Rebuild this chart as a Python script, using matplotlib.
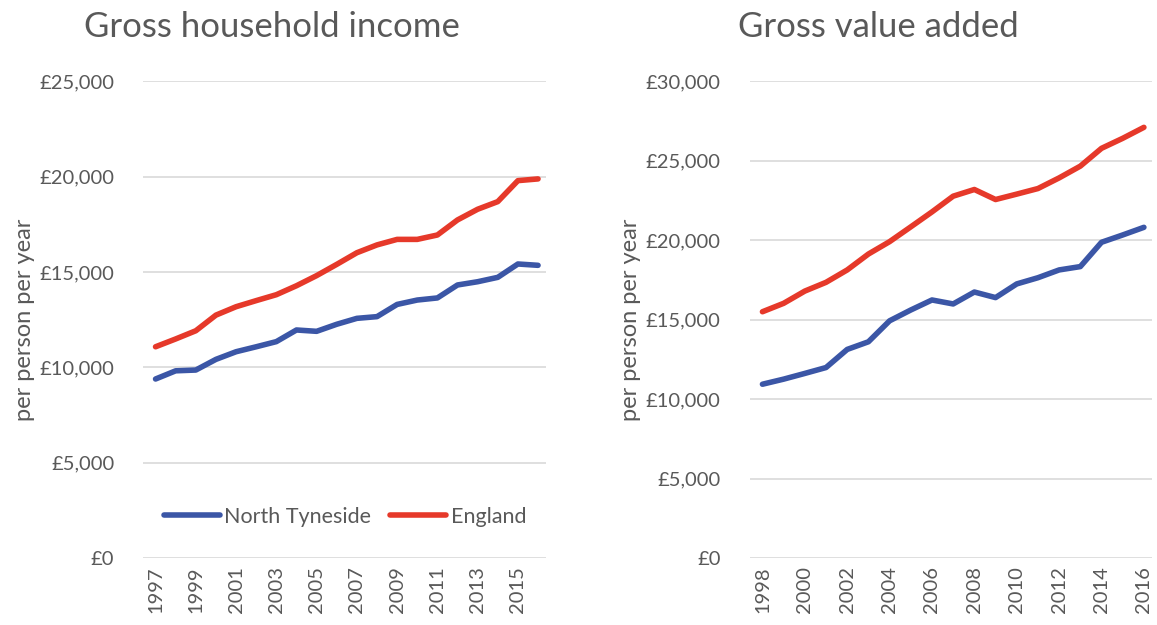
import matplotlib as mpl
import matplotlib.pyplot as plt
import numpy as np

# Gross household income, per person per year
GHI_YEARS = list(range(1997, 2017))
GHI_NORTH_TYNESIDE = [9390, 9820, 9860, 10420, 10820, 11080, 11350, 11960, 11890, 12260,
                      12570, 12660, 13300, 13530, 13640, 14320, 14490, 14720, 15420, 15350]
GHI_ENGLAND = [11080, 11490, 11920, 12740, 13180, 13500, 13810, 14280, 14810, 15400,
               16010, 16420, 16710, 16710, 16940, 17730, 18290, 18690, 19790, 19880]

# Gross value added, per person per year
GVA_YEARS = list(range(1998, 2017))
GVA_NORTH_TYNESIDE = [10940, 11260, 11620, 11990, 13130, 13610, 14930, 15610, 16240, 15990,
                      16740, 16390, 17250, 17640, 18130, 18340, 19870, 20330, 20810]
GVA_ENGLAND = [15500, 16030, 16800, 17350, 18130, 19130, 19910, 20840, 21780, 22770,
               23190, 22560, 22900, 23250, 23920, 24660, 25780, 26410, 27100]

BLUE = "#3b56a6"
RED = "#e6392a"
TEXT = "#595959"
GRID = "#d9d9d9"

plt.rcParams["font.family"] = ["Lato", "DejaVu Sans"]


def style_axes(ax, years, ymax, title, title_x, tick_years):
    ax.set_xlim(years[0] - 0.6, years[-1] + 0.4)
    ax.set_ylim(0, ymax)
    ax.yaxis.set_major_locator(mpl.ticker.MultipleLocator(5000))
    ax.yaxis.set_major_formatter(mpl.ticker.FuncFormatter(lambda v, p: f"£{v:,.0f}"))
    ax.set_xticks(tick_years)
    ax.set_xticklabels([str(y) for y in tick_years], rotation=90)
    ax.grid(axis="y", color=GRID, lw=1.2)
    ax.set_axisbelow(True)
    for s in ax.spines.values():
        s.set_visible(False)
    ax.tick_params(length=0, labelsize=14.5, colors=TEXT, pad=6)
    ax.tick_params(axis="y", pad=21)
    ax.set_ylabel("per person per year", fontsize=17, color=TEXT, labelpad=3)
    # title sits left of the axes centre, as in the source
    fig.text(title_x, 0.957, title, fontsize=25, color=TEXT, ha="center", va="center")


fig = plt.figure(figsize=(11.57, 6.25), dpi=100)
ax1 = fig.add_axes([0.124, 0.107, 0.348, 0.763])
ax2 = fig.add_axes([0.648, 0.107, 0.348, 0.763])

ax1.plot(GHI_YEARS, GHI_NORTH_TYNESIDE, color=BLUE, lw=4, solid_capstyle="round",
         label="North Tyneside")
ax1.plot(GHI_YEARS, GHI_ENGLAND, color=RED, lw=4, solid_capstyle="round", label="England")
style_axes(ax1, GHI_YEARS, 25000, "Gross household income", 0.235, GHI_YEARS[::2])
leg = ax1.legend(loc="center", bbox_to_anchor=(0.5, 0.087), ncols=2, frameon=False,
                 fontsize=15.5, handlelength=2.6, handletextpad=0.2, columnspacing=0.9)
for t in leg.get_texts():
    t.set_color(TEXT)

ax2.plot(GVA_YEARS, GVA_NORTH_TYNESIDE, color=BLUE, lw=4, solid_capstyle="round")
ax2.plot(GVA_YEARS, GVA_ENGLAND, color=RED, lw=4, solid_capstyle="round")
style_axes(ax2, GVA_YEARS, 30000, "Gross value added", 0.759, GVA_YEARS[::2])

fig.savefig("out.png", dpi=100)
